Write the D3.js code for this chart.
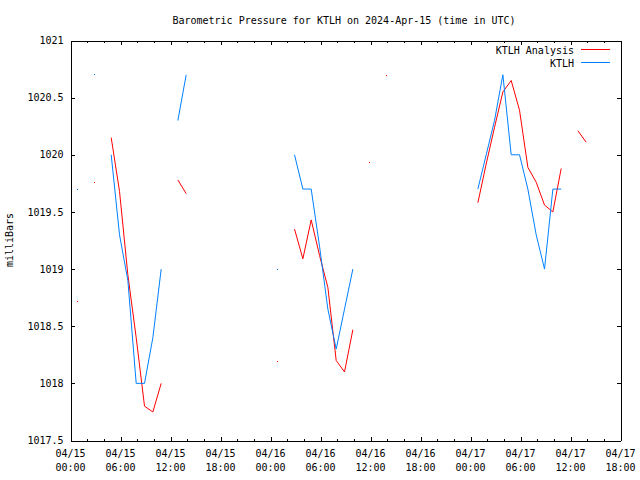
<!DOCTYPE html>
<html><head><meta charset="utf-8">
<script src="https://cdn.jsdelivr.net/npm/d3@7"></script>
<style>
body{margin:0;background:#fff;}
text{font-family:"DejaVu Sans Mono",monospace;font-size:10px;fill:#000;}
</style></head>
<body><svg id="c" width="640" height="480"></svg>
<script>
// hour index since 2024-04-15 00:00 UTC; observations taken at minute 53 of the previous hour
const obsMinute = 53;
const hours = d3.range(0, 67);
const obsHours   = [1,3,5,6,7,8,9,10,11,13,14,25,27,28,29,30,31,32,33,34,49,50,51,52,53,54,55,56,57,58,59];
const obsValues  = [1019.7,1020.7,1020.0,1019.3,1018.9,1018.0,1018.0,1018.4,1019.0,1020.3,1020.7,1019.0,
                    1020.0,1019.7,1019.7,1019.2,1018.65,1018.3,1018.65,1019.0,
                    1019.7,1020.0,1020.3,1020.7,1020.0,1020.0,1019.7,1019.3,1019.0,1019.7,1019.7];
const anaHours   = [1,3,5,6,7,8,9,10,11,13,14,25,27,28,29,30,31,32,33,34,36,38,49,50,51,52,53,54,55,56,57,58,59,61,62];
const anaValues  = [1018.72,1019.76,1020.15,1019.68,1018.95,1018.4,1017.8,1017.75,1018.0,1019.78,1019.66,1018.19,
                    1019.35,1019.09,1019.43,1019.12,1018.84,1018.2,1018.1,1018.47,1019.93,1020.69,
                    1019.58,1019.92,1020.24,1020.55,1020.65,1020.39,1019.89,1019.76,1019.56,1019.5,1019.88,1020.21,1020.11];
const yTicks = [1017.5,1018,1018.5,1019,1019.5,1020,1020.5,1021];
const xMajorHours = d3.range(0, 67, 6);
const xMinorHours = d3.range(0, 67, 2).filter(h => h % 6 !== 0);
const seriesNames = ["KTLH Analysis", "KTLH"];
const seriesColors = ["#ff0000", "#0080ff"];
const title = "Barometric Pressure for KTLH on 2024-Apr-15 (time in UTC)";
const yLabel = "milliBars";

const t0 = Date.UTC(2024,3,15,0,0);
const toDate = h => new Date(t0 + h*3600e3);
const obsDate = h => new Date(t0 + (h-1)*3600e3 + obsMinute*60e3);
function fullSeries(hs, vs){
  const m = new Map(hs.map((h,i)=>[h,vs[i]]));
  return hours.map(h => ({t: obsDate(h), v: m.has(h) ? m.get(h) : null}));
}
const series = [fullSeries(anaHours, anaValues), fullSeries(obsHours, obsValues)];

const svg = d3.select("#c");
svg.append("rect").attr("width",640).attr("height",480).attr("fill","#fff");
const L=70.5, R=620.5, T=40.5, B=440.5;
const x = d3.scaleUtc().domain([toDate(0), toDate(66)]).range([L, R]);
const y = d3.scaleLinear().domain([1017.5, 1021]).range([B, T]);

const fmtD = d3.utcFormat("%m/%d"), fmtT = d3.utcFormat("%H:%M");
const g = svg.append("g").attr("shape-rendering","crispEdges");
function styleAxis(sel){ sel.selectAll("path,line").attr("stroke","#000"); sel.selectAll("text").remove(); }
// minor ticks
g.append("g").attr("transform",`translate(0,${B})`)
  .call(d3.axisBottom(x).tickValues(xMinorHours.map(toDate)).tickSize(-2).tickSizeOuter(0).tickFormat("")).call(styleAxis);
g.append("g").attr("transform",`translate(0,${T})`)
  .call(d3.axisTop(x).tickValues(xMinorHours.map(toDate)).tickSize(-2).tickSizeOuter(0).tickFormat("")).call(styleAxis);
// major ticks
g.append("g").attr("transform",`translate(0,${B})`)
  .call(d3.axisBottom(x).tickValues(xMajorHours.map(toDate)).tickSize(-4).tickSizeOuter(0).tickFormat("")).call(styleAxis);
g.append("g").attr("transform",`translate(0,${T})`)
  .call(d3.axisTop(x).tickValues(xMajorHours.map(toDate)).tickSize(-4).tickSizeOuter(0).tickFormat("")).call(styleAxis);
g.append("g").attr("transform",`translate(${R},0)`)
  .call(d3.axisRight(y).tickValues(yTicks).tickSize(-4).tickSizeOuter(0).tickFormat("")).call(styleAxis);
const yl = g.append("g").attr("transform",`translate(${L},0)`)
  .call(d3.axisLeft(y).tickValues(yTicks).tickSize(-4).tickSizeOuter(0).tickPadding(7)
     .tickFormat(d => String(d)));
yl.selectAll("path,line").attr("stroke","#000");
yl.selectAll("text").attr("font-family",null).attr("font-size",null).style("font-family",'"DejaVu Sans Mono",monospace').style("font-size","10px");

// x labels two lines
const xl = svg.append("g");
xMajorHours.map(toDate).forEach(d => {
  const t = xl.append("text").attr("x", x(d)).attr("text-anchor","middle");
  t.append("tspan").attr("x", x(d)).attr("y", 457).text(fmtD(d));
  t.append("tspan").attr("x", x(d)).attr("y", 471).text(fmtT(d));
});

// title & y label
svg.append("text").attr("x",344).attr("y",24).attr("text-anchor","middle").text(title);
svg.append("text").attr("transform","translate(13,240) rotate(-90)").attr("text-anchor","middle").text(yLabel);

// lines
const line = d3.line().defined(d => d.v !== null).x(d => x(d.t)).y(d => y(d.v));
series.forEach((s,i) => {
  svg.append("path").datum(s).attr("fill","none").attr("stroke",seriesColors[i]).attr("stroke-width",1)
    .attr("d", line);
  const iso = s.filter((d,k) => d.v !== null && (k===0 || s[k-1].v===null) && (k===s.length-1 || s[k+1].v===null));
  svg.selectAll(null).data(iso).enter().append("rect")
    .attr("x", d => Math.floor(x(d.t))).attr("y", d => Math.floor(y(d.v)))
    .attr("width",1).attr("height",1).attr("fill",seriesColors[i]);
});

// legend
seriesNames.forEach((n,i) => {
  const yy = 49.5 + i*13;
  svg.append("text").attr("x",574).attr("y",yy+4).attr("text-anchor","end").text(n);
  svg.append("line").attr("x1",581).attr("x2",610).attr("y1",yy).attr("y2",yy)
    .attr("stroke",seriesColors[i]).attr("stroke-width",1).attr("shape-rendering","crispEdges");
});
</script></body></html>
